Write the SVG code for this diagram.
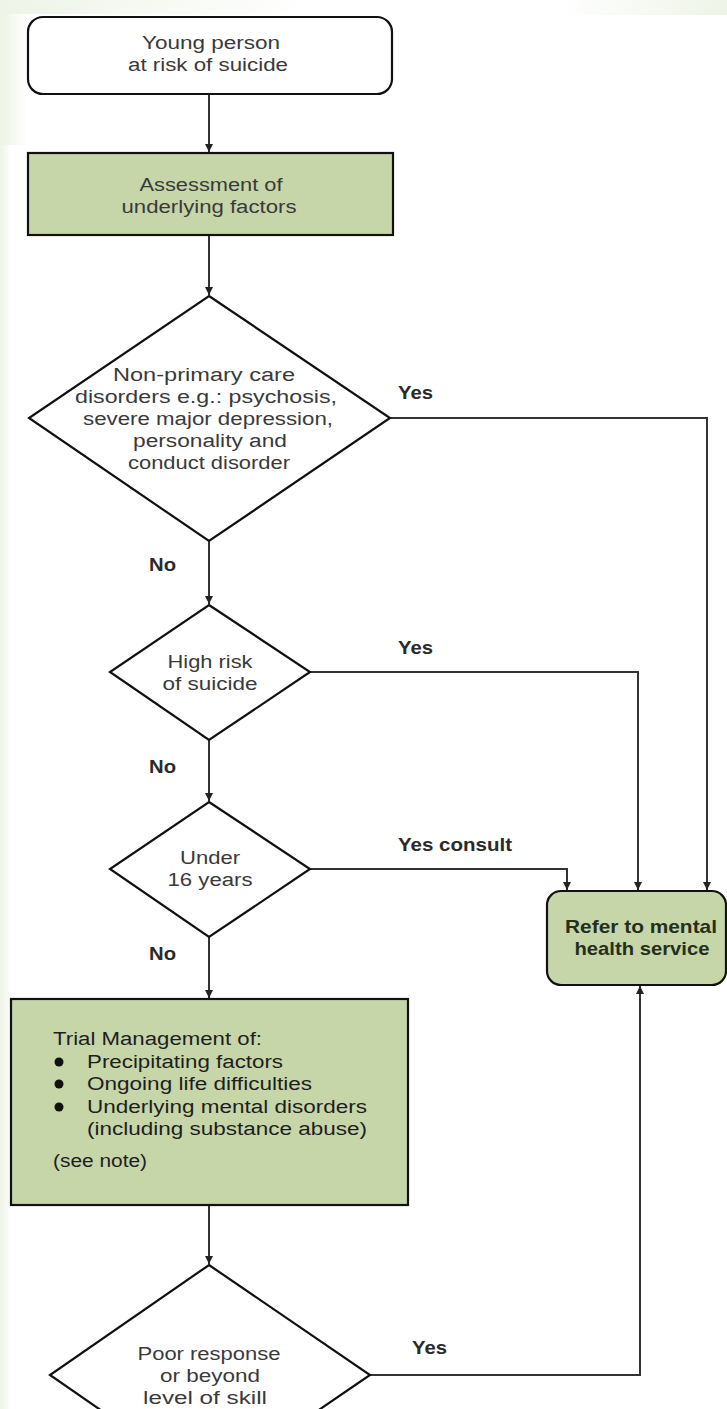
<svg xmlns="http://www.w3.org/2000/svg" width="727" height="1409" viewBox="0 0 727 1409">
<style>
.shape{stroke:#111;stroke-width:2.2;}
.green{fill:#c6d6a9;}
.white{fill:#fff;}
.t{font-family:"Liberation Sans",Arial,sans-serif;font-size:18px;fill:#3a3a3a;text-anchor:middle;}
.tl{font-family:"Liberation Sans",Arial,sans-serif;font-size:18px;fill:#1e1e1e;}
.lab{font-family:"Liberation Sans",Arial,sans-serif;font-size:19px;font-weight:bold;fill:#2a2a2a;}
.bold{font-family:"Liberation Sans",Arial,sans-serif;font-size:19px;font-weight:bold;fill:#24301c;text-anchor:middle;}
.conn{fill:none;stroke:#333;stroke-width:2;}
</style>
<defs>
<marker id="arr" markerWidth="10" markerHeight="10" refX="8" refY="4" orient="auto" markerUnits="userSpaceOnUse">
<path d="M0,0 L8,4 L0,8 Z" fill="#222"/>
</marker>
<linearGradient id="fadeR" x1="0" y1="0" x2="1" y2="0">
<stop offset="0" stop-color="#eef4e7"/>
<stop offset="1" stop-color="#eef4e7" stop-opacity="0"/>
</linearGradient>
<linearGradient id="fadeL" x1="0" y1="0" x2="1" y2="0">
<stop offset="0" stop-color="#eef4e7" stop-opacity="0"/>
<stop offset="1" stop-color="#eef4e7"/>
</linearGradient>
</defs>
<rect x="0" y="0" width="727" height="1409" fill="#fff"/>
<g id="background">
<rect x="0" y="0" width="12" height="1409" fill="url(#fadeR)"/>
<rect x="0" y="0" width="310" height="14" fill="url(#fadeR)"/>
<rect x="0" y="0" width="28" height="145" fill="url(#fadeR)"/>
<rect x="560" y="0" width="167" height="15" fill="url(#fadeL)"/>
</g>
<g id="connectors">
<path class="conn" d="M209,94 V152" marker-end="url(#arr)"/>
<path class="conn" d="M209,235 V295" marker-end="url(#arr)"/>
<path class="conn" d="M209,541 V604" marker-end="url(#arr)"/>
<path class="conn" d="M209,740 V801" marker-end="url(#arr)"/>
<path class="conn" d="M209,937 V998" marker-end="url(#arr)"/>
<path class="conn" d="M209,1205 V1264" marker-end="url(#arr)"/>
<path class="conn" d="M390,418 H707 V890" marker-end="url(#arr)"/>
<path class="conn" d="M310,672 H638 V890" marker-end="url(#arr)"/>
<path class="conn" d="M310,869 H567 V890" marker-end="url(#arr)"/>
<path class="conn" d="M370,1375 H640 V986" marker-end="url(#arr)"/>
<text class="lab" x="398" y="399" textLength="35" lengthAdjust="spacingAndGlyphs">Yes</text>
<text class="lab" x="149" y="571" textLength="27" lengthAdjust="spacingAndGlyphs">No</text>
<text class="lab" x="398" y="654" textLength="35" lengthAdjust="spacingAndGlyphs">Yes</text>
<text class="lab" x="149" y="773" textLength="27" lengthAdjust="spacingAndGlyphs">No</text>
<text class="lab" x="398" y="851" textLength="114" lengthAdjust="spacingAndGlyphs">Yes consult</text>
<text class="lab" x="149" y="960" textLength="27" lengthAdjust="spacingAndGlyphs">No</text>
<text class="lab" x="412" y="1354" textLength="35" lengthAdjust="spacingAndGlyphs">Yes</text>
</g>
<g id="start">
<rect class="shape white" x="28" y="17" width="364" height="77" rx="15"/>
<text class="t" x="211" y="49" textLength="138" lengthAdjust="spacingAndGlyphs">Young person</text>
<text class="t" x="208" y="71" textLength="160" lengthAdjust="spacingAndGlyphs">at risk of suicide</text>
</g>
<g id="assessment">
<rect class="shape green" x="28" y="153" width="365" height="82"/>
<text class="t" x="211" y="191" textLength="143" lengthAdjust="spacingAndGlyphs">Assessment of</text>
<text class="t" x="209" y="213" textLength="175" lengthAdjust="spacingAndGlyphs">underlying factors</text>
</g>
<g id="decision-nonprimary">
<polygon class="shape white" points="209,296 390,418 209,541 29,418"/>
<text class="t" x="204" y="381" textLength="182" lengthAdjust="spacingAndGlyphs">Non-primary care</text>
<text class="t" x="206" y="403" textLength="262" lengthAdjust="spacingAndGlyphs">disorders e.g.: psychosis,</text>
<text class="t" x="208" y="425" textLength="250" lengthAdjust="spacingAndGlyphs">severe major depression,</text>
<text class="t" x="210" y="447" textLength="154" lengthAdjust="spacingAndGlyphs">personality and</text>
<text class="t" x="209" y="469" textLength="162" lengthAdjust="spacingAndGlyphs">conduct disorder</text>
</g>
<g id="decision-highrisk">
<polygon class="shape white" points="209,605 310,672 209,740 110,672"/>
<text class="t" x="210" y="668" textLength="85" lengthAdjust="spacingAndGlyphs">High risk</text>
<text class="t" x="210" y="690" textLength="95" lengthAdjust="spacingAndGlyphs">of suicide</text>
</g>
<g id="decision-under16">
<polygon class="shape white" points="209,802 310,869 209,937 110,869"/>
<text class="t" x="210" y="864" textLength="60" lengthAdjust="spacingAndGlyphs">Under</text>
<text class="t" x="210" y="886" textLength="85" lengthAdjust="spacingAndGlyphs">16 years</text>
</g>
<g id="refer">
<rect class="shape green" x="547" y="891" width="179" height="94" rx="14"/>
<text class="bold" x="641" y="933" textLength="152" lengthAdjust="spacingAndGlyphs">Refer to mental</text>
<text class="bold" x="642" y="955" textLength="135" lengthAdjust="spacingAndGlyphs">health service</text>
</g>
<g id="trial">
<rect class="shape green" x="11" y="999" width="397" height="206"/>
<text class="tl" x="53" y="1045" textLength="209" lengthAdjust="spacingAndGlyphs">Trial Management of:</text>
<circle cx="59" cy="1062" r="4.5" fill="#111"/>
<circle cx="59" cy="1084" r="4.5" fill="#111"/>
<circle cx="59" cy="1107" r="4.5" fill="#111"/>
<text class="tl" x="87" y="1068" textLength="196" lengthAdjust="spacingAndGlyphs">Precipitating factors</text>
<text class="tl" x="87" y="1090" textLength="225" lengthAdjust="spacingAndGlyphs">Ongoing life difficulties</text>
<text class="tl" x="87" y="1113" textLength="280" lengthAdjust="spacingAndGlyphs">Underlying mental disorders</text>
<text class="tl" x="87" y="1135" textLength="280" lengthAdjust="spacingAndGlyphs">(including substance abuse)</text>
<text class="tl" x="53" y="1167" textLength="94" lengthAdjust="spacingAndGlyphs">(see note)</text>
</g>
<g id="decision-poorresponse">
<polygon class="shape white" points="209,1265 370,1375 209,1485 50,1375"/>
<text class="t" x="209" y="1360" textLength="143" lengthAdjust="spacingAndGlyphs">Poor response</text>
<text class="t" x="210" y="1382" textLength="100" lengthAdjust="spacingAndGlyphs">or beyond</text>
<text class="t" x="205" y="1404" textLength="124" lengthAdjust="spacingAndGlyphs">level of skill</text>
</g>
</svg>
